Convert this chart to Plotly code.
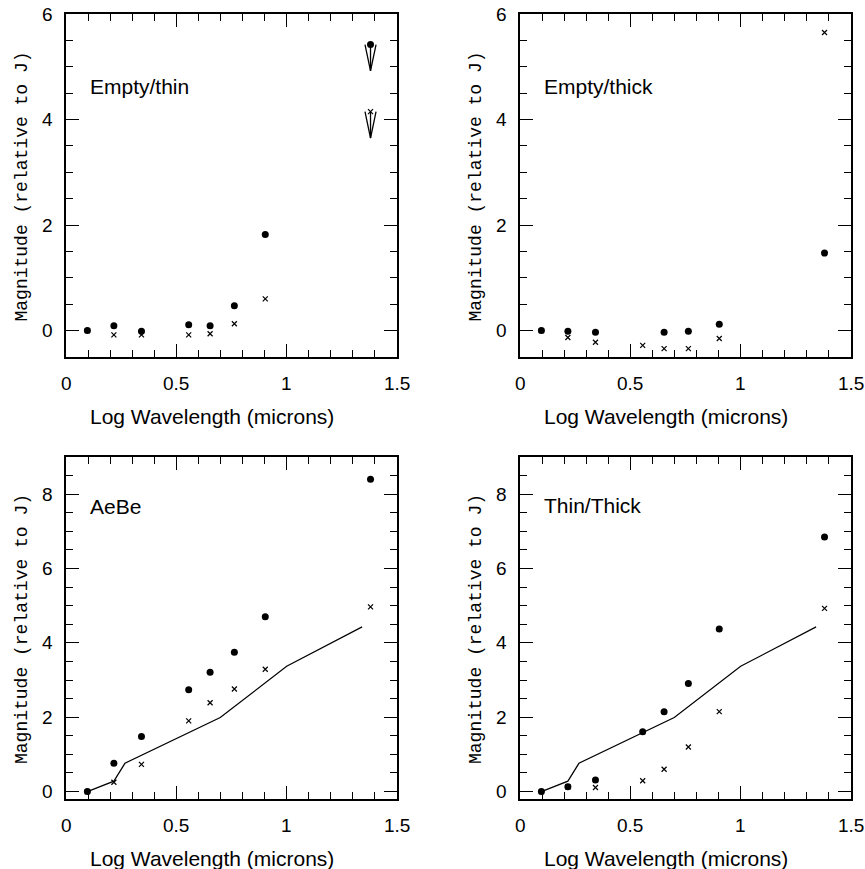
import plotly.graph_objects as go

# ---- data ----
log_wav = [0.097, 0.217, 0.342, 0.556, 0.653, 0.763, 0.903, 1.380]

thin_dots = [0.0, 0.09, -0.01, 0.11, 0.09, 0.47, 1.82, 5.42]
thin_cross = [0.0, -0.08, -0.08, -0.08, -0.06, 0.13, 0.60, 4.15]
thin_limit = [False, False, False, False, False, False, False, True]

thick_dots = [0.0, -0.01, -0.03, None, -0.03, -0.01, 0.12, 1.47]
thick_cross = [0.0, -0.13, -0.22, -0.28, -0.34, -0.34, -0.15, 5.65]

aebe_dots = [0.0, 0.76, 1.48, 2.74, 3.21, 3.75, 4.70, 8.40]
aebe_cross = [0.0, 0.25, 0.73, 1.90, 2.39, 2.76, 3.29, 4.97]

tt_dots = [0.0, 0.13, 0.31, 1.61, 2.15, 2.91, 4.37, 6.85]
tt_cross = [0.0, 0.13, 0.11, 0.29, 0.60, 1.20, 2.15, 4.93]

model_x = [0.097, 0.217, 0.267, 0.699, 1.0, 1.342]
model_y = [0.0, 0.28, 0.76, 1.99, 3.37, 4.43]

panel_labels = ["Empty/thin", "Empty/thick", "AeBe", "Thin/Thick"]
x_title = "Log Wavelength (microns)"
y_title = "Magnitude (relative to J)"

x_tickvals = [0, 0.5, 1, 1.5]
x_ticktext = ["0", "0.5", "1", "1.5"]
y_tickvals_top = [0, 2, 4, 6]
y_tickvals_bot = [0, 2, 4, 6, 8]

W, H = 865, 869

# panel boxes in pixels: (left, right, top, bottom)
boxes = [(66, 397, 14, 357), (520, 851, 14, 357),
         (66, 397, 457, 799), (520, 851, 457, 799)]
xrange_ = [0, 1.5]
yranges = [[-0.5, 6], [-0.5, 6], [-0.2, 9], [-0.2, 9]]
ytickvals = [y_tickvals_top, y_tickvals_top, y_tickvals_bot, y_tickvals_bot]
label_y = [4.63, 4.63, 7.67, 7.69]

fig = go.Figure()

panels = [
    (thin_dots, thin_cross, False),
    (thick_dots, thick_cross, False),
    (aebe_dots, aebe_cross, True),
    (tt_dots, tt_cross, True),
]

SANS = "Liberation Sans, Arial, sans-serif"
MONO = "Liberation Mono, Courier New, monospace"

for i, (dots, cross, has_model) in enumerate(panels):
    n = "" if i == 0 else str(i + 1)
    xa, ya = "x" + n, "y" + n
    if has_model:
        fig.add_trace(go.Scatter(x=model_x, y=model_y, mode="lines",
                                 line=dict(color="black", width=1.2),
                                 xaxis=xa, yaxis=ya, showlegend=False))
    fig.add_trace(go.Scatter(x=log_wav, y=cross, mode="markers",
                             marker=dict(symbol="x-thin", size=5, color="black",
                                         line=dict(color="black", width=1.2)),
                             xaxis=xa, yaxis=ya, showlegend=False))
    fig.add_trace(go.Scatter(x=log_wav, y=dots, mode="markers",
                             marker=dict(symbol="circle", size=7, color="black"),
                             xaxis=xa, yaxis=ya, showlegend=False))

# upper-limit arrows on the Empty/thin panel
arrow_len = 0.5
arrow_half = 0.025
for series in (thin_dots, thin_cross):
    for xv, yv, lim in zip(log_wav, series, thin_limit):
        if not lim:
            continue
        fig.add_trace(go.Scatter(
            x=[xv - arrow_half, xv, xv + arrow_half, None, xv, xv],
            y=[yv, yv - arrow_len, yv, None, yv, yv - arrow_len],
            mode="lines", line=dict(color="black", width=1.3),
            xaxis="x", yaxis="y", showlegend=False))

layout = dict(width=W, height=H, margin=dict(l=0, r=0, t=0, b=0),
              paper_bgcolor="white", plot_bgcolor="white", showlegend=False)

annotations = []
for i, (l, r, t, b) in enumerate(boxes):
    n = "" if i == 0 else str(i + 1)
    y0, y1 = yranges[i]
    layout["xaxis" + n] = dict(
        domain=[l / W, r / W], range=xrange_, anchor="y" + n,
        showline=True, linewidth=2, linecolor="black", mirror="allticks",
        ticks="inside", ticklen=13, tickwidth=1.3, tickcolor="black",
        dtick=0.5, showticklabels=False, showgrid=False, zeroline=False,
        minor=dict(ticks="inside", ticklen=7, dtick=0.1, tickcolor="black"),
    )
    layout["yaxis" + n] = dict(
        domain=[1 - b / H, 1 - t / H], range=yranges[i], anchor="x" + n,
        showline=True, linewidth=2, linecolor="black", mirror="allticks",
        ticks="inside", ticklen=13, tickwidth=1.3, tickcolor="black",
        dtick=2, showticklabels=False, showgrid=False, zeroline=False,
        minor=dict(ticks="inside", ticklen=7, dtick=0.5, tickcolor="black"),
    )
    # x tick labels (paper coordinates derived from tick values)
    for v, txt in zip(x_tickvals, x_ticktext):
        px = l + (v - xrange_[0]) / (xrange_[1] - xrange_[0]) * (r - l)
        annotations.append(dict(text=txt, x=px / W, y=1 - (b + 26) / H,
                                xref="paper", yref="paper", xanchor="center",
                                yanchor="middle", showarrow=False,
                                font=dict(family=SANS, size=19, color="black")))
    # y tick labels
    for v in ytickvals[i]:
        py = b - (v - y0) / (y1 - y0) * (b - t)
        annotations.append(dict(text=str(v), x=(l - 11) / W, y=1 - py / H,
                                xref="paper", yref="paper", xanchor="right",
                                yanchor="middle", showarrow=False,
                                font=dict(family=SANS, size=19, color="black")))
    # panel label
    annotations.append(dict(text=panel_labels[i], x=0.1, y=label_y[i],
                            xref="x" + n, yref="y" + n, xanchor="left",
                            yanchor="middle", showarrow=False,
                            font=dict(family=SANS, size=21, color="black")))
    # x title
    annotations.append(dict(text=x_title, x=((l + r) / 2 - 20) / W,
                            y=1 - (b + 59) / H, xref="paper", yref="paper",
                            xanchor="center", yanchor="middle", showarrow=False,
                            font=dict(family=SANS, size=21, color="black")))
    # y title
    annotations.append(dict(text=y_title, x=(l - 44) / W,
                            y=1 - ((t + b) / 2 + 1) / H, xref="paper", yref="paper",
                            xanchor="center", yanchor="middle", showarrow=False,
                            textangle=-90,
                            font=dict(family=MONO, size=18, color="black")))

layout["annotations"] = annotations
fig.update_layout(**layout)
fig.write_html("out.html")
